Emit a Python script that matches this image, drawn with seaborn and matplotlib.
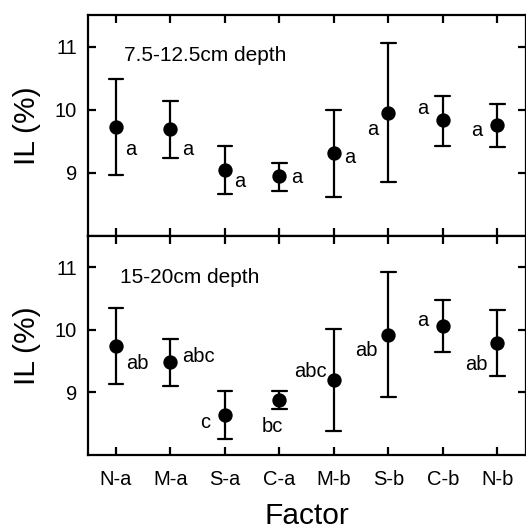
import numpy as np
import pandas as pd
import matplotlib
matplotlib.use("Agg")
import matplotlib.pyplot as plt
import seaborn as sns

sns.set_theme(style="ticks")
plt.rcParams['font.family'] = ['Liberation Sans', 'DejaVu Sans']
plt.rcParams['text.color'] = 'black'
plt.rcParams['axes.labelcolor'] = 'black'
plt.rcParams['xtick.color'] = 'black'
plt.rcParams['ytick.color'] = 'black'

factors = ["N-a", "M-a", "S-a", "C-a", "M-b", "S-b", "C-b", "N-b"]

# 7.5-12.5 cm depth
top_mean  = [9.73, 9.69, 9.05, 8.95, 9.31, 9.95, 9.83, 9.75]
top_lower = [8.97, 9.23, 8.67, 8.72, 8.62, 8.85, 9.43, 9.41]
top_upper = [10.48, 10.14, 9.43, 9.16, 9.99, 11.05, 10.22, 10.09]
top_letters = ["a", "a", "a", "a", "a", "a", "a", "a"]

# 15-20 cm depth
bot_mean  = [9.75, 9.48, 8.64, 8.88, 9.20, 9.92, 10.06, 9.79]
bot_lower = [9.13, 9.10, 8.25, 8.73, 8.38, 8.92, 9.65, 9.26]
bot_upper = [10.35, 9.86, 9.02, 9.03, 10.01, 10.92, 10.47, 10.31]
bot_letters = ["ab", "abc", "c", "bc", "abc", "ab", "a", "ab"]

panel_titles = ["7.5-12.5cm depth", "15-20cm depth"]
yticks = [9, 10, 11]

# letter placement (layout): (dx in category units, y in data units, ha)
top_letter_pos = [(0.17, 9.37, "left"), (0.22, 9.37, "left"), (0.17, 8.87, "left"),
                  (0.22, 8.93, "left"), (0.18, 9.24, "left"), (-0.18, 9.69, "right"),
                  (-0.27, 10.02, "right"), (-0.27, 9.67, "right")]
bot_letter_pos = [(0.18, 9.46, "left"), (0.21, 9.57, "left"), (-0.27, 8.52, "right"),
                  (-0.12, 8.45, "center"), (-0.13, 9.33, "right"), (-0.20, 9.67, "right"),
                  (-0.27, 10.15, "right"), (-0.17, 9.45, "right")]


def long_frame(mean, lower, upper):
    rows = []
    for f, m, lo, up in zip(factors, mean, lower, upper):
        for v in (lo, m, up):
            rows.append({"Factor": f, "IL": v})
    return pd.DataFrame(rows)


fig = plt.figure(figsize=(5.26, 5.32), dpi=100)
left, right = 88 / 526, 525.5 / 526
ax_top = fig.add_axes([left, 1 - 236 / 532, right - left, (236 - 15) / 532])
ax_bot = fig.add_axes([left, 1 - 455 / 532, right - left, (455 - 236) / 532])

fs = 14.5
panels = [
    (ax_top, top_mean, top_lower, top_upper, top_letters, top_letter_pos, panel_titles[0], 0.818, 0.082),
    (ax_bot, bot_mean, bot_lower, bot_upper, bot_letters, bot_letter_pos, panel_titles[1], 0.812, 0.072),
]
for ax, m, lo, up, letters, lpos, title, ty, tx in panels:
    df = long_frame(m, lo, up)
    sns.pointplot(data=df, x="Factor", y="IL", order=factors, ax=ax,
                  estimator=np.median, errorbar=("pi", 100), capsize=0.27,
                  color="black", linestyle="none", marker="o", markersize=8.3,
                  err_kws={"linewidth": 1.6})
    for i, (lab, (dx, y, ha)) in enumerate(zip(letters, lpos)):
        ax.text(i + dx, y, lab, ha=ha, va="center", fontsize=fs, color="black")
    ax.text(tx, ty, title, transform=ax.transAxes,
            ha="left", va="center", fontsize=fs + 0.5, color="black")
    ax.set_xlim(-0.515, 7.52)
    ax.set_ylim(8.0, 11.5)
    ax.set_yticks(yticks)
    ax.set_yticklabels([str(t) for t in yticks], fontsize=fs)
    ax.set_ylabel("IL (%)", fontsize=21.5, labelpad=10, color="black")
    ax.tick_params(axis="both", direction="in", length=5.5, width=1.6,
                   top=True, right=True, bottom=True, left=True, colors="black",
                   labelcolor="black")
    ax.tick_params(axis="y", pad=8)
    ax.tick_params(axis="x", pad=11)
    for s in ax.spines.values():
        s.set_visible(True)
        s.set_linewidth(1.6)
        s.set_color("black")
    ax.set_facecolor("white")

ax_top.set_xlabel("")
ax_top.tick_params(axis="x", labelbottom=False)
ax_bot.set_xticks(range(len(factors)))
ax_bot.set_xticklabels(factors, fontsize=fs)
ax_bot.set_xlabel("Factor", fontsize=21.5, labelpad=9, color="black")

fig.savefig("out.png", dpi=100, facecolor="white")
